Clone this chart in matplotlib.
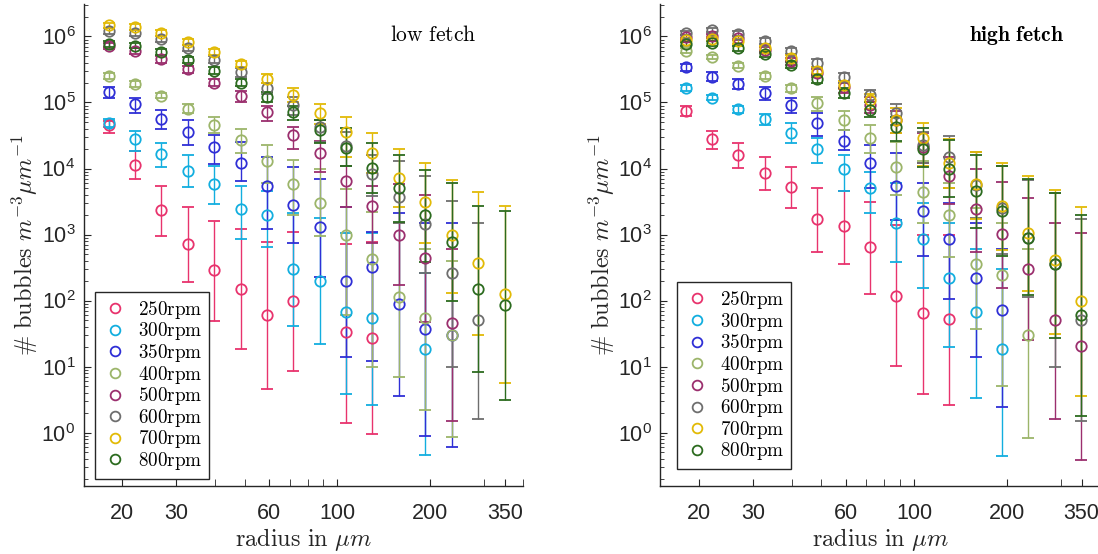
import numpy as np
import matplotlib
matplotlib.use('Agg')
import matplotlib.pyplot as plt
from matplotlib.lines import Line2D
from matplotlib.ticker import FixedLocator, FixedFormatter, LogFormatterSciNotation, NullFormatter

nan = np.nan

# bubble radius bins (um)
radius = [18.1, 22.0, 26.8, 32.7, 39.8, 48.5, 59.1, 71.9, 87.6, 106.7, 130, 158.4, 193, 235, 286, 349]

rpm_labels = ['250rpm', '300rpm', '350rpm', '400rpm', '500rpm', '600rpm', '700rpm', '800rpm']
colors = ['#E8336D', '#12AEDF', '#2F2FD6', '#9CB56A', '#9B2F6E', '#6E6E6E', '#E2BA06', '#2C6B1F']

# ---- low fetch ----
low_vals = [
    [4.6e4, 1.15e4, 2.35e3, 714, 288, 150, 61, 98, nan, 33, 27, nan, nan, nan, nan, nan],
    [4.95e4, 2.77e4, 1.66e4, 9.3e3, 5.9e3, 2.4e3, 2.0e3, 299, 201, 66, 54, nan, 18.2, nan, nan, nan],
    [1.43e5, 9.4e4, 5.6e4, 3.6e4, 2.14e4, 1.2e4, 5.4e3, 2.8e3, 1.3e3, 200, 324, 89, 36.7, 30, nan, nan],
    [2.54e5, 1.9e5, 1.27e5, 8.1e4, 4.6e4, 2.7e4, 1.3e4, 5.9e3, 3.0e3, 1.0e3, 433, 112, 55, 30.5, nan, nan],
    [7.2e5, 6.06e5, 4.5e5, 3.2e5, 2.0e5, 1.25e5, 7.1e4, 3.2e4, 1.7e4, 6.4e3, 2.7e3, 1.0e3, 443, 45.7, nan, nan],
    [1.23e6, 1.13e6, 9.1e5, 6.7e5, 4.4e5, 2.85e5, 1.65e5, 9.2e4, 4.2e4, 2.2e4, 8.2e3, 3.7e3, 1.42e3, 263, 50.7, nan],
    [1.47e6, 1.39e6, 1.14e6, 8.3e5, 5.8e5, 3.86e5, 2.3e5, 1.3e5, 7.0e4, 3.6e4, 1.7e4, 7.3e3, 3.07e3, 980, 368, 126],
    [7.7e5, 7.3e5, 5.9e5, 4.4e5, 3.05e5, 2.0e5, 1.23e5, 7.1e4, 3.8e4, 2.07e4, 1.03e4, 5.0e3, 1.95e3, 767, 152, 85],
]
low_upper = [
    [5.2e4, 1.86e4, 5.5e3, 2.6e3, 1.6e3, 1.2e3, 780, 1.1e3, nan, 730, 760, nan, nan, nan, nan, nan],
    [5.7e4, 3.7e4, 2.45e4, 1.58e4, 1.1e4, 5.5e3, 4.5e3, 2.1e3, 1.8e3, 1.07e3, 1.07e3, nan, 260, nan, nan, nan],
    [1.7e5, 1.16e5, 7.8e4, 5.4e4, 3.2e4, 2.5e4, 1.5e4, 1.06e4, 6.9e3, 2.6e3, 1.1e3, 2.1e3, 1.5e3, 1.48e3, nan, nan],
    [2.8e5, 2.1e5, 1.4e5, 9.5e4, 6.1e4, 3.9e4, 2.3e4, 1.35e4, 1.0e4, 4.9e3, 2.2e3, 1.5e3, 600, 400, nan, nan],
    [8.0e5, 6.8e5, 5.0e5, 3.6e5, 2.3e5, 1.5e5, 9.0e4, 4.3e4, 2.6e4, 1.1e4, 5.5e3, 5.9e3, 4.0e3, 600, nan, nan],
    [1.35e6, 1.25e6, 1.0e6, 7.5e5, 5.0e5, 3.3e5, 1.95e5, 1.2e5, 5.5e4, 3.6e4, 1.6e4, 1.28e4, 7.8e3, 3.2e3, 1.5e3, nan],
    [1.6e6, 1.52e6, 1.25e6, 9.2e5, 6.5e5, 4.3e5, 2.7e5, 1.65e5, 9.6e4, 6.0e4, 3.5e4, 2.0e4, 1.23e4, 6.6e3, 4.4e3, 2.7e3],
    [8.5e5, 8.0e5, 6.5e5, 4.9e5, 3.4e5, 2.3e5, 1.45e5, 9.0e4, 5.5e4, 4.1e4, 2.4e4, 1.58e4, 9.4e3, 6.1e3, 2.7e3, 2.3e3],
]
low_lower = [
    [3.4e4, 6.9e3, 946, 189, 49, 18.4, 4.56, 8.45, nan, 1.4, 0.95, nan, nan, nan, nan, nan],
    [4.2e4, 1.86e4, 1.07e4, 5.2e3, 2.87e3, 860, 650, 41, 21.7, 3.9, 2.6, nan, 0.45, nan, nan, nan],
    [1.16e5, 7.0e4, 3.9e4, 2.3e4, 1.19e4, 6.5e3, 1.2e3, 733, 231, 14, 12, 3.6, 0.88, 0.6, nan, nan],
    [2.3e5, 1.7e5, 1.15e5, 6.9e4, 3.5e4, 1.7e4, 6.0e3, 2.0e3, 946, 60, 10, 7.0, 2.2, 0.85, nan, nan],
    [6.5e5, 5.4e5, 4.0e5, 2.8e5, 1.75e5, 1.0e5, 5.2e4, 2.0e4, 8.9e3, 2.6e3, 733, 174, 47, 1.5, nan, nan],
    [1.1e6, 1.02e6, 8.2e5, 6.0e5, 3.9e5, 2.45e5, 1.35e5, 6.5e4, 2.5e4, 1.1e4, 3.8e3, 1.5e3, 257, 10, 1.6, nan],
    [1.35e6, 1.27e6, 1.03e6, 7.5e5, 5.2e5, 3.4e5, 1.95e5, 1.0e5, 4.7e4, 1.5e4, 8.5e3, 2.6e3, 733, 130, 30, 5.6],
    [7.0e5, 6.6e5, 5.3e5, 3.95e5, 2.7e5, 1.75e5, 1.02e5, 5.5e4, 2.4e4, 1.1e4, 4.3e3, 1.56e3, 385, 97.5, 8.3, 3.1],
]

# ---- high fetch ----
high_vals = [
    [7.5e4, 2.8e4, 1.6e4, 8.6e3, 5.3e3, 1.73e3, 1.33e3, 637, 119, 65, 53, nan, nan, nan, nan, nan],
    [1.65e5, 1.19e5, 7.9e4, 5.6e4, 3.4e4, 1.95e4, 9.9e3, 5.1e3, 1.5e3, 851, 216, 66, 18.2, nan, nan, nan],
    [3.4e5, 2.47e5, 1.9e5, 1.37e5, 9.2e4, 4.95e4, 2.6e4, 1.2e4, 5.5e3, 2.3e3, 850, 220, 73, nan, nan, nan],
    [6.1e5, 4.9e5, 3.6e5, 2.56e5, 1.65e5, 9.8e4, 5.4e4, 2.9e4, 1.06e4, 4.4e3, 1.97e3, 352, 240, 30, nan, nan],
    [9.7e5, 1.02e6, 9.5e5, 6.3e5, 4.2e5, 2.8e5, 1.7e5, 9.2e4, 5.5e4, 2.1e4, 7.8e3, 2.4e3, 1.03e3, 302, 50, 20.7],
    [1.13e6, 1.24e6, 1.1e6, 8.6e5, 6.1e5, 4.0e5, 2.4e5, 1.3e5, 6.9e4, 2.3e4, 1.5e4, 5.6e3, 2.5e3, 900, 355, 51.5],
    [8.9e5, 9.1e5, 8.4e5, 6.7e5, 4.7e5, 3.05e5, 1.85e5, 1.1e5, 5.4e4, 2.9e4, 1.2e4, 5.8e3, 2.7e3, 1.06e3, 409, 97.5],
    [7.7e5, 7.9e5, 6.7e5, 5.4e5, 3.7e5, 2.3e5, 1.38e5, 7.7e4, 4.2e4, 2.0e4, 9.7e3, 4.5e3, 2.3e3, 890, 355, 60],
]
high_upper = [
    [9.0e4, 3.75e4, 2.4e4, 1.5e4, 1.06e4, 5.1e3, 4.6e3, 3.1e3, 1.4e3, 1.0e3, 1.0e3, nan, nan, nan, nan, nan],
    [1.85e5, 1.3e5, 9.0e4, 6.7e4, 4.9e4, 2.9e4, 1.6e4, 9.0e3, 6.0e3, 3.0e3, 1.5e3, 600, 300, nan, nan, nan],
    [3.8e5, 2.9e5, 2.3e5, 1.7e5, 1.15e5, 7.0e4, 3.8e4, 2.3e4, 1.7e4, 6.0e3, 3.0e3, 1.5e3, 600, nan, nan, nan],
    [6.6e5, 5.3e5, 3.9e5, 2.8e5, 1.85e5, 1.2e5, 7.5e4, 4.5e4, 2.5e4, 1.3e4, 6.0e3, 2.5e3, 1.5e3, 600, nan, nan],
    [1.05e6, 1.1e6, 1.03e6, 7.0e5, 4.7e5, 3.2e5, 2.0e5, 1.2e5, 7.5e4, 3.5e4, 1.5e4, 9.7e3, 6.3e3, 3.6e3, 1.5e3, 1.07e3],
    [1.22e6, 1.33e6, 1.19e6, 9.4e5, 6.7e5, 4.5e5, 2.8e5, 1.55e5, 9.4e4, 3.6e4, 3.1e4, 1.8e4, 1.1e4, 6.7e3, 4.2e3, 1.74e3],
    [9.6e5, 9.8e5, 9.1e5, 7.3e5, 5.2e5, 3.4e5, 2.1e5, 1.35e5, 8.2e4, 4.97e4, 2.77e4, 1.8e4, 1.2e4, 7.7e3, 4.7e3, 2.6e3],
    [8.3e5, 8.5e5, 7.3e5, 5.9e5, 4.1e5, 2.6e5, 1.65e5, 1.0e5, 6.0e4, 4.1e4, 2.7e4, 1.6e4, 1.1e4, 6.9e3, 4.2e3, 1.97e3],
]
high_lower = [
    [6.2e4, 2.0e4, 1.03e4, 4.7e3, 2.5e3, 550, 363, 124, 10.2, 3.9, 2.6, nan, nan, nan, nan, nan],
    [1.5e5, 1.08e5, 6.9e4, 4.5e4, 2.4e4, 1.2e4, 4.6e3, 2.1e3, 378, 156, 20, 3.3, 0.44, nan, nan, nan],
    [3.0e5, 2.1e5, 1.6e5, 1.1e5, 7.0e4, 3.1e4, 1.9e4, 5.0e3, 1.66e3, 478, 107, 13.9, 2.4, nan, nan, nan],
    [5.6e5, 4.5e5, 3.3e5, 2.3e5, 1.45e5, 7.5e4, 3.8e4, 1.7e4, 4.0e3, 1.48e3, 460, 37.6, 5.0, 0.82, nan, nan],
    [8.9e5, 9.4e5, 8.7e5, 5.7e5, 3.7e5, 2.4e5, 1.4e5, 7.0e4, 3.5e4, 1.2e4, 2.9e3, 550, 156, 25, 1.6, 0.39],
    [1.05e6, 1.15e6, 1.01e6, 7.8e5, 5.5e5, 3.5e5, 2.0e5, 1.0e5, 4.5e4, 1.2e4, 5.0e3, 1.8e3, 500, 113, 10, 1.5],
    [8.2e5, 8.4e5, 7.7e5, 6.1e5, 4.2e5, 2.7e5, 1.6e5, 8.0e4, 3.5e4, 1.1e4, 5.0e3, 1.7e3, 575, 138, 31, 3.55],
    [7.1e5, 7.3e5, 6.1e5, 4.9e5, 3.3e5, 2.0e5, 1.15e5, 6.0e4, 2.6e4, 1.04e4, 3.7e3, 1.26e3, 478, 120, 27, 1.76],
]

xtick_major = [20, 30, 60, 100, 200, 350]
xtick_minor = [40, 50, 70, 80, 90, 300, 400]
ytick_major = [1e0, 1e1, 1e2, 1e3, 1e4, 1e5, 1e6]

plt.rcParams['font.family'] = ['Liberation Sans', 'DejaVu Sans']
plt.rcParams['mathtext.fontset'] = 'cm'

AX_COLOR = '#262626'


def draw_panel(ax, vals, upper, lower, title, legend_anchor):
    x = np.array(radius)
    for k in range(len(rpm_labels)):
        v = np.array(vals[k])
        hi = np.array(upper[k])
        lo = np.array(lower[k])
        ax.errorbar(x, v, yerr=[v - lo, hi - v], fmt='o', color=colors[k],
                    mfc='none', ms=7.5, mew=1.3, elinewidth=1.0,
                    capsize=4.3, capthick=1.0)

    ax.set_xscale('log')
    ax.set_yscale('log')
    ax.set_xlim(15, 400)
    ax.set_ylim(0.155, 3.1e6)

    ax.xaxis.set_major_locator(FixedLocator(xtick_major))
    ax.xaxis.set_major_formatter(FixedFormatter([str(t) for t in xtick_major]))
    ax.xaxis.set_minor_locator(FixedLocator(xtick_minor))
    ax.xaxis.set_minor_formatter(NullFormatter())

    # minor y ticks at 2..9 of every decade inside the limits
    yminor = [m * d for d in [0.1, 1, 10, 1e2, 1e3, 1e4, 1e5, 1e6] for m in range(2, 10)]
    yminor = [t for t in yminor if 0.155 <= t <= 3.1e6]
    ax.yaxis.set_major_locator(FixedLocator(ytick_major))
    ax.yaxis.set_major_formatter(LogFormatterSciNotation())
    ax.yaxis.set_minor_locator(FixedLocator(yminor))
    ax.yaxis.set_minor_formatter(NullFormatter())

    ax.tick_params(which='both', direction='in', colors=AX_COLOR, labelsize=15.5)
    ax.tick_params(axis='x', which='both', length=5, pad=12)
    ax.tick_params(axis='y', which='major', length=5, pad=6)
    ax.tick_params(axis='y', which='minor', length=3)

    for side in ['top', 'right']:
        ax.spines[side].set_visible(False)
    for side in ['left', 'bottom']:
        ax.spines[side].set_color(AX_COLOR)
        ax.spines[side].set_linewidth(1.0)

    ax.set_xlabel(r'$\mathrm{radius\ in}\ \mu m$', fontsize=17.5, color=AX_COLOR, labelpad=2)
    ax.set_ylabel(r'$\#\ \mathrm{bubbles}\ m^{-3}\mu m^{-1}$', fontsize=17.5, color=AX_COLOR, labelpad=1)

    ax.text(title[1], 0.934, title[0], transform=ax.transAxes,
            ha='center', va='center', fontsize=15.5)

    handles = [Line2D([], [], linestyle='none', marker='o', ms=7, mew=1.3,
                      mfc='none', color=c) for c in colors]
    labels = [r'$\mathrm{%s}$' % s for s in rpm_labels]
    leg = ax.legend(handles, labels, loc='lower left', bbox_to_anchor=legend_anchor,
                    borderaxespad=0, fontsize=13.8, frameon=True, fancybox=False,
                    edgecolor=AX_COLOR, framealpha=1, handlelength=1.4,
                    handletextpad=0.5, labelspacing=-0.02, borderpad=0.35)
    leg.get_frame().set_linewidth(1.0)


fig = plt.figure(figsize=(10.98, 5.54), dpi=100)
ax1 = fig.add_axes([0.0763, 0.1227, 0.3998, 0.870])
ax2 = fig.add_axes([0.6015, 0.1227, 0.3998, 0.870])

draw_panel(ax1, low_vals, low_upper, low_lower, (r'$\mathrm{low\ fetch}$', 0.797), (0.025, 0.015))
draw_panel(ax2, high_vals, high_upper, high_lower, (r'$\mathbf{high\ fetch}$', 0.812), (0.037, 0.035))

fig.savefig('out.png', dpi=100)
